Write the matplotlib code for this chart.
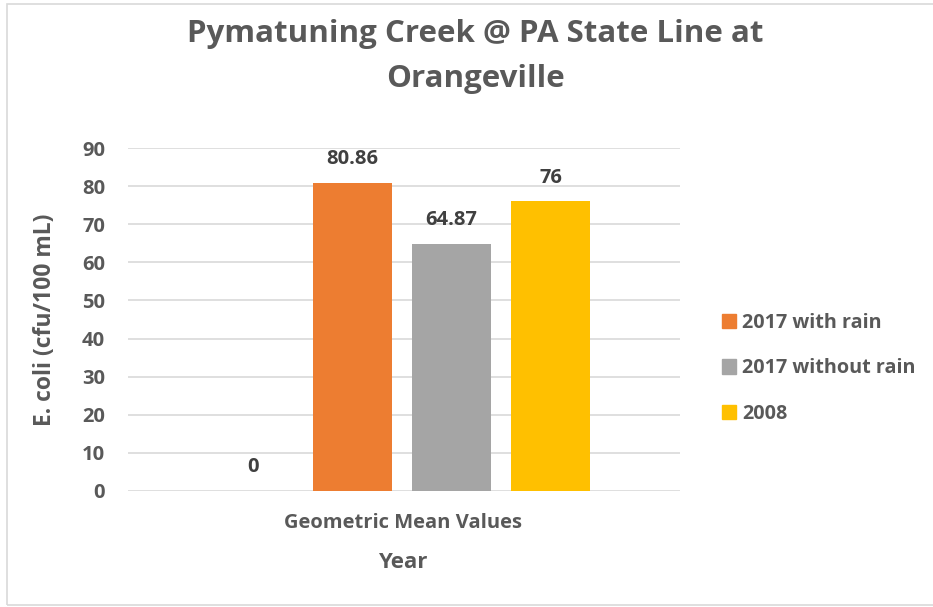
import matplotlib.pyplot as plt
from matplotlib.patches import Rectangle

# data
series = ['', '2017 with rain', '2017 without rain', '2008']
values = [0, 80.86, 64.87, 76]
labels = ['0', '80.86', '64.87', '76']
colors = ['#FFFFFF', '#ED7D31', '#A5A5A5', '#FFC000']
yticks = [0, 10, 20, 30, 40, 50, 60, 70, 80, 90]

plt.rcParams['font.family'] = ['Open Sans', 'DejaVu Sans']
txt = '#595959'

fig = plt.figure(figsize=(9.33, 6.07), dpi=100)
fig.patches.append(Rectangle((7 / 933, 0.003), 1.2, 1 - 4 / 607 - 0.003,
                             transform=fig.transFigure, fill=False,
                             edgecolor='#D9D9D9', linewidth=1.2))

ax = fig.add_axes([128 / 933, 1 - 491 / 607, 552 / 933, 343 / 607])
xs = range(len(values))
bars = ax.bar(xs, values, width=0.795, color=colors, zorder=3)
for x, v, lab in zip(xs, values, labels):
    ax.text(x, v + 3.6, lab, ha='center', va='bottom', fontsize=14.5,
            fontweight='bold', color='#404040')

ax.set_xlim(-1.259, 4.30)
ax.set_ylim(0, 90)
ax.set_yticks(yticks)
ax.set_xticks([])
ax.tick_params(axis='y', length=0, pad=16.5, labelsize=14.5, labelcolor=txt)
for t in ax.get_yticklabels():
    t.set_fontweight('bold')
ax.grid(axis='y', color='#D9D9D9', linewidth=1.2, zorder=0)
for s in ax.spines.values():
    s.set_visible(False)

fig.text(403 / 933, 1 - 523 / 607, 'Geometric Mean Values', ha='center',
         va='center', fontsize=14.5, fontweight='bold', color=txt)
fig.text(403 / 933, 1 - 562 / 607, 'Year', ha='center', va='center',
         fontsize=16, fontweight='bold', color=txt)
fig.text(45 / 933, 1 - 320 / 607, 'E. coli (cfu/100 mL)', ha='center',
         va='center', rotation=90, fontsize=16.5, fontweight='bold', color=txt)
fig.text(475 / 933, 1 - 34 / 607, 'Pymatuning Creek @ PA State Line at',
         ha='center', va='center', fontsize=22.5, fontweight='bold', color=txt)
fig.text(475 / 933, 1 - 79 / 607, 'Orangeville', ha='center', va='center',
         fontsize=22.5, fontweight='bold', color=txt)

handles = [Rectangle((0, 0), 1, 1, color=c) for c in colors[1:]]
leg = fig.legend(handles, series[1:], loc='upper left',
                 bbox_to_anchor=(704 / 933, 1 - 295 / 607), frameon=False,
                 handlelength=0.72, handleheight=0.72, handletextpad=0.3,
                 labelspacing=1.3, prop={'size': 14.2, 'weight': 'bold'})
for t in leg.get_texts():
    t.set_color(txt)

fig.savefig('out.png', dpi=100)
